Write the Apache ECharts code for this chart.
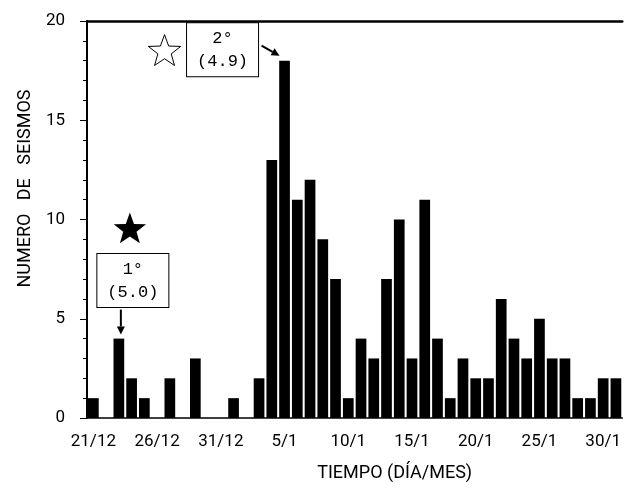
<!DOCTYPE html>
<html>
<head>
<meta charset="utf-8">
<script src="https://cdn.jsdelivr.net/npm/echarts@6/dist/echarts.min.js"></script>
<style>
  html, body { margin: 0; padding: 0; background: #fff; }
  #chart { width: 624px; height: 495px; }
</style>
</head>
<body>
<div id="chart"></div>
<script>
// dias 21/12 .. 31/1
const days = [
  "21/12", "22/12", "23/12", "24/12", "25/12", "26/12", "27/12", "28/12", "29/12", "30/12",
  "31/12", "1/1", "2/1", "3/1", "4/1", "5/1", "6/1", "7/1", "8/1", "9/1",
  "10/1", "11/1", "12/1", "13/1", "14/1", "15/1", "16/1", "17/1", "18/1", "19/1",
  "20/1", "21/1", "22/1", "23/1", "24/1", "25/1", "26/1", "27/1", "28/1", "29/1",
  "30/1", "31/1"
];
const seismos = [
  1, 0, 4, 2, 1, 0, 2, 0, 3, 0,
  0, 1, 0, 2, 13, 18, 11, 12, 9, 7,
  1, 4, 3, 7, 10, 3, 11, 4, 1, 3,
  2, 2, 6, 4, 3, 5, 3, 3, 1, 1,
  2, 2
];
const yTicks = [0, 5, 10, 15, 20];
// eventos principales: [dia, seismos], texto
const ev1 = { at: ["23/12", 4], text: "1°\n(5.0)" };
const ev2 = { at: ["5/1", 18], text: "2°\n(4.9)" };

const sans = "Roboto";
const mono = "Liberation Mono";

const chart = echarts.init(document.getElementById("chart"));

const option = {
  animation: false,
  backgroundColor: "#fff",
  grid: { left: 87, right: 1, top: 21, bottom: 77 },
  xAxis: [
    {
      type: "category",
      data: days,
      name: "TIEMPO (DÍA/MES)",
      nameLocation: "middle",
      nameGap: 46,
      nameTextStyle: { color: "#000", fontFamily: sans, fontSize: 18, padding: [0, 0, 0, 80] },
      axisLine: { lineStyle: { color: "#000", width: 1.5 } },
      axisTick: { alignWithLabel: true, interval: 0, length: 5, lineStyle: { color: "#000" } },
      axisLabel: { interval: 4, color: "#000", fontFamily: sans, fontSize: 17, margin: 15 },
      splitLine: { show: false }
    },
    {
      type: "category",
      data: days,
      position: "top",
      axisLine: { lineStyle: { color: "#000", width: 2.5 } },
      axisTick: { show: false },
      axisLabel: { show: false }
    }
  ],
  yAxis: {
    type: "value",
    min: yTicks[0],
    max: yTicks[yTicks.length - 1],
    interval: 5,
    name: "NUMERO   DE   SEISMOS",
    nameLocation: "middle",
    nameGap: 46,
    nameTextStyle: { color: "#000", fontFamily: sans, fontSize: 18, padding: [0, 0, 0, 62] },
    axisLine: { show: true, lineStyle: { color: "#000", width: 2 } },
    axisTick: { show: true, length: 7, lineStyle: { color: "#000" } },
    minorTick: { show: true, splitNumber: 5, length: 4, lineStyle: { color: "#000" } },
    axisLabel: { color: "#000", fontFamily: sans, fontSize: 17, margin: 22 },
    splitLine: { show: false }
  },
  series: [
    {
      type: "bar",
      data: seismos,
      barCategoryGap: "16%",
      itemStyle: { color: "#000" }
    }
  ]
};
chart.setOption(option);

function star(cx, cy, R, r) {
  const pts = [];
  for (let i = 0; i < 10; i++) {
    const rad = i % 2 === 0 ? R : r;
    const a = -Math.PI / 2 + (i * Math.PI) / 5;
    pts.push([cx + rad * Math.cos(a), cy + rad * Math.sin(a)]);
  }
  return pts;
}

function arrow(x1, y1, x2, y2) {
  const a = Math.atan2(y2 - y1, x2 - x1);
  const L = 8, W = 4;
  const bx = x2 - L * Math.cos(a), by = y2 - L * Math.sin(a);
  return [
    { type: "line", shape: { x1: x1, y1: y1, x2: bx, y2: by }, style: { stroke: "#000", lineWidth: 2 } },
    {
      type: "polygon",
      shape: {
        points: [
          [x2, y2],
          [bx + W * Math.sin(a), by - W * Math.cos(a)],
          [bx - W * Math.sin(a), by + W * Math.cos(a)]
        ]
      },
      style: { fill: "#000" }
    }
  ];
}

function box(cx, cy, text) {
  return {
    type: "text",
    x: cx,
    y: cy,
    style: {
      text: text,
      font: "17px " + mono,
      fill: "#000",
      align: "center",
      verticalAlign: "middle",
      lineHeight: 23,
      padding: [4, 10, 3, 10],
      borderColor: "#000",
      borderWidth: 1,
      backgroundColor: "#fff"
    }
  };
}

const a1 = chart.convertToPixel({ gridIndex: 0 }, ev1.at);
const a2 = chart.convertToPixel({ gridIndex: 0 }, ev2.at);

chart.setOption({
  graphic: [
    { type: "polygon", shape: { points: star(a1[0] + 11, a1[1] - 109, 17, 7) }, style: { fill: "#000" } },
    box(a1[0] + 14, a1[1] - 58, ev1.text),
    ...arrow(a1[0] + 2, a1[1] - 29, a1[0] + 2, a1[1] - 4),
    { type: "polygon", shape: { points: star(a2[0] - 120, a2[1] - 9, 17, 7) }, style: { fill: "#fff", stroke: "#000", lineWidth: 1 } },
    box(a2[0] - 62, a2[1] - 11, ev2.text),
    ...arrow(a2[0] - 23, a2[1] - 15, a2[0] - 5, a2[1] - 5)
  ]
});
</script>
</body>
</html>
